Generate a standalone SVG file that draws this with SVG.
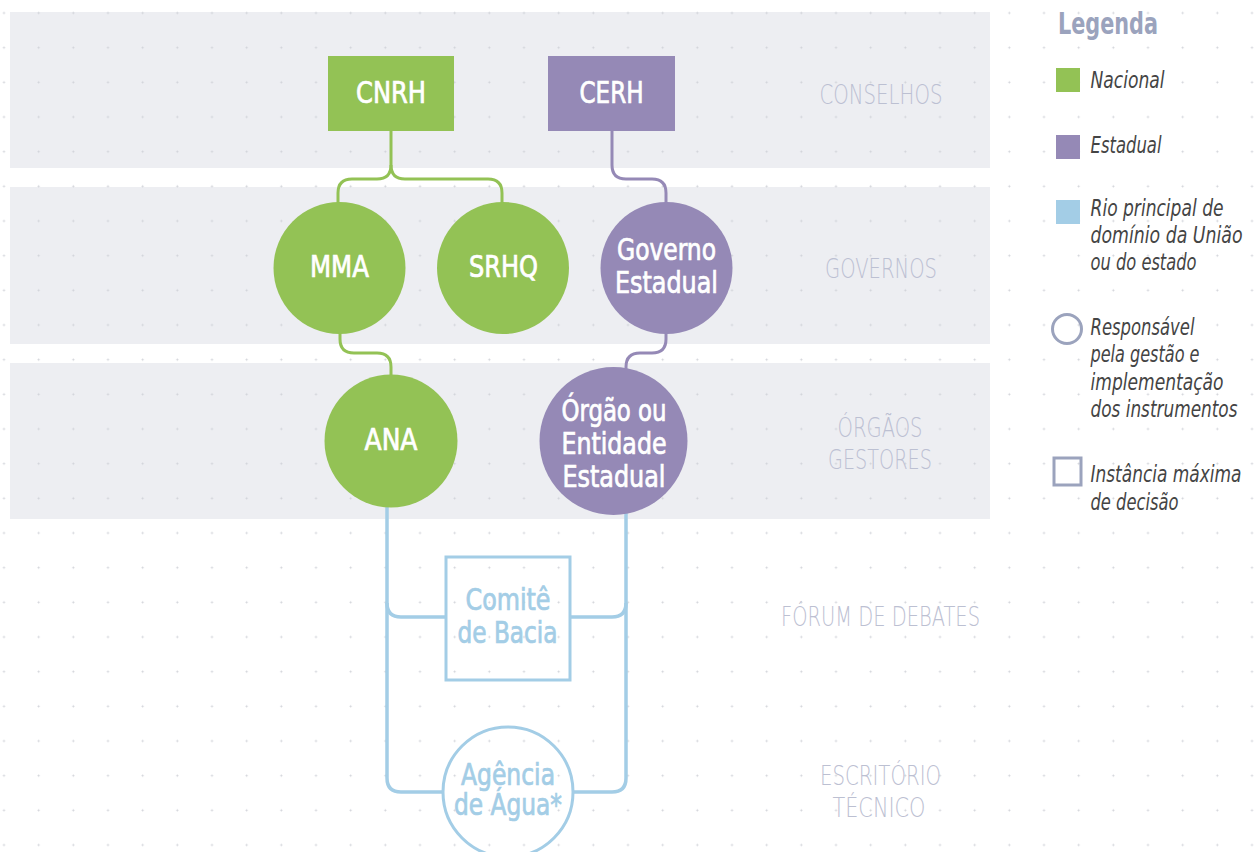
<svg xmlns="http://www.w3.org/2000/svg" width="1256" height="852" viewBox="0 0 1256 852">
<defs>
<pattern id="dots" patternUnits="userSpaceOnUse" x="-13.333" y="-4.333" width="34.667" height="34.667">
<rect x="16.333" y="16.833" width="2" height="1" fill="#cfd1d7"/>
<rect x="16.833" y="16.333" width="1" height="2" fill="#cfd1d7"/>
</pattern>
<style>
.band{fill:#edeef2}
.nat{fill:#93c255}
.est{fill:#9589b6}
text{font-family:"DejaVu Sans Condensed","DejaVu Sans","Liberation Sans",sans-serif}
.lbl{font-size:29.5px;fill:#fff;stroke:#fff;stroke-width:0.7;text-anchor:middle}
.blbl{font-size:29.5px;fill:#a3cde6;stroke:#a3cde6;stroke-width:0.7;text-anchor:middle}
.side{font-family:"DejaVu Sans","Liberation Sans",sans-serif;font-weight:200;font-size:26px;fill:#bcc0d2;text-anchor:middle}
.leg{font-family:"DejaVu Sans","Liberation Sans",sans-serif;font-weight:200;font-size:23px;font-style:italic;fill:#444}
.cg{fill:none;stroke:#93c255;stroke-width:3}
.cp{fill:none;stroke:#9589b6;stroke-width:3}
.cb{fill:none;stroke:#a3cde6;stroke-width:3.5}
</style>
</defs>
<rect width="1256" height="852" fill="#fff"/>
<g id="bands">
<rect class="band" x="10" y="12" width="980" height="156"/>
<rect class="band" x="10" y="187" width="980" height="157"/>
<rect class="band" x="10" y="363" width="980" height="156"/>
</g>
<rect width="1256" height="852" fill="url(#dots)"/>
<g id="side-labels">
<text class="side" x="881" y="104" textLength="123" lengthAdjust="spacingAndGlyphs">CONSELHOS</text>
<text class="side" x="881" y="278" textLength="112" lengthAdjust="spacingAndGlyphs">GOVERNOS</text>
<text class="side" x="880" y="437" textLength="85" lengthAdjust="spacingAndGlyphs">ÓRGÃOS</text>
<text class="side" x="880" y="469" textLength="104" lengthAdjust="spacingAndGlyphs">GESTORES</text>
<text class="side" x="880.5" y="626" textLength="199" lengthAdjust="spacingAndGlyphs">FÓRUM DE DEBATES</text>
<text class="side" x="880.5" y="785" textLength="121" lengthAdjust="spacingAndGlyphs">ESCRITÓRIO</text>
<text class="side" x="879" y="817" textLength="93" lengthAdjust="spacingAndGlyphs">TÉCNICO</text>
</g>
<g id="connectors">
<path class="cg" d="M391,131 V165 Q391,179 377,179 H352 Q338,179 338,193 V203"/>
<path class="cg" d="M391,165 Q391,179 405,179 H488 Q502,179 502,193 V203"/>
<path class="cp" d="M612,131 V165 Q612,179 626,179 H652 Q666,179 666,193 V203"/>
<path class="cg" d="M340,333 V339 Q340,353 354,353 H377 Q391,353 391,367 V375"/>
<path class="cp" d="M666,333 V339 Q666,353 652,353 H640 Q626,353 626,367 V369"/>
<path class="cb" d="M387,506 V778 Q387,792 401,792 H443"/>
<path class="cb" d="M387,603 Q387,617 401,617 H446"/>
<path class="cb" d="M626,513 V778 Q626,792 612,792 H573"/>
<path class="cb" d="M626,603 Q626,617 612,617 H570"/>
</g>
<g id="node-cnrh">
<rect class="nat" x="328" y="56" width="126" height="75"/>
<text class="lbl" x="391" y="103" textLength="70" lengthAdjust="spacingAndGlyphs">CNRH</text>
</g>
<g id="node-cerh">
<rect class="est" x="548" y="56" width="127" height="75"/>
<text class="lbl" x="611.5" y="103" textLength="64" lengthAdjust="spacingAndGlyphs">CERH</text>
</g>
<g id="node-mma">
<circle class="nat" cx="339.5" cy="268" r="66"/>
<text class="lbl" x="339.5" y="277" textLength="59" lengthAdjust="spacingAndGlyphs">MMA</text>
</g>
<g id="node-srhq">
<circle class="nat" cx="503" cy="268" r="66"/>
<text class="lbl" x="503.5" y="277" textLength="69" lengthAdjust="spacingAndGlyphs">SRHQ</text>
</g>
<g id="node-governo">
<circle class="est" cx="666.5" cy="268" r="66"/>
<text class="lbl" x="666.5" y="260" textLength="99" lengthAdjust="spacingAndGlyphs">Governo</text>
<text class="lbl" x="666.5" y="293" textLength="103" lengthAdjust="spacingAndGlyphs">Estadual</text>
</g>
<g id="node-ana">
<circle class="nat" cx="391" cy="441" r="66.5"/>
<text class="lbl" x="391" y="450" textLength="53" lengthAdjust="spacingAndGlyphs">ANA</text>
</g>
<g id="node-orgao">
<circle class="est" cx="613.5" cy="441" r="74"/>
<text class="lbl" x="614" y="421" textLength="105" lengthAdjust="spacingAndGlyphs">Órgão ou</text>
<text class="lbl" x="614" y="454" textLength="105" lengthAdjust="spacingAndGlyphs">Entidade</text>
<text class="lbl" x="614" y="487" textLength="103" lengthAdjust="spacingAndGlyphs">Estadual</text>
</g>
<g id="node-comite">
<rect x="446" y="557" width="124" height="123" fill="none" stroke="#a3cde6" stroke-width="3"/>
<text class="blbl" x="508" y="610" textLength="85" lengthAdjust="spacingAndGlyphs">Comitê</text>
<text class="blbl" x="507.5" y="643" textLength="100" lengthAdjust="spacingAndGlyphs">de Bacia</text>
</g>
<g id="node-agencia">
<circle cx="508" cy="792" r="65" fill="none" stroke="#a3cde6" stroke-width="3"/>
<text class="blbl" x="508" y="785" textLength="94" lengthAdjust="spacingAndGlyphs">Agência</text>
<text class="blbl" x="508" y="815" textLength="108" lengthAdjust="spacingAndGlyphs">de Água*</text>
</g>
<g id="legend">
<text x="1058" y="34" font-size="31" font-weight="bold" fill="#9ba3bd" textLength="100" lengthAdjust="spacingAndGlyphs">Legenda</text>
<rect x="1056" y="68" width="24" height="24" fill="#93c255"/>
<text class="leg" x="1090.5" y="88" textLength="74" lengthAdjust="spacingAndGlyphs">Nacional</text>
<rect x="1056" y="135" width="24" height="24" fill="#9589b6"/>
<text class="leg" x="1090.5" y="153" textLength="71" lengthAdjust="spacingAndGlyphs">Estadual</text>
<rect x="1056" y="200" width="24" height="24" fill="#a3cde6"/>
<text class="leg" x="1090.5" y="216" textLength="133" lengthAdjust="spacingAndGlyphs">Rio principal de</text>
<text class="leg" x="1090.5" y="243" textLength="152" lengthAdjust="spacingAndGlyphs">domínio da União</text>
<text class="leg" x="1090.5" y="270" textLength="106" lengthAdjust="spacingAndGlyphs">ou do estado</text>
<circle cx="1067" cy="329" r="14.5" fill="none" stroke="#9ba3bd" stroke-width="3"/>
<text class="leg" x="1090.5" y="335" textLength="104" lengthAdjust="spacingAndGlyphs">Responsável</text>
<text class="leg" x="1090.5" y="362" textLength="109" lengthAdjust="spacingAndGlyphs">pela gestão e</text>
<text class="leg" x="1090.5" y="390" textLength="133" lengthAdjust="spacingAndGlyphs">implementação</text>
<text class="leg" x="1090.5" y="417" textLength="147" lengthAdjust="spacingAndGlyphs">dos instrumentos</text>
<rect x="1054" y="458" width="27" height="27" fill="none" stroke="#9ba3bd" stroke-width="3"/>
<text class="leg" x="1090.5" y="482" textLength="151" lengthAdjust="spacingAndGlyphs">Instância máxima</text>
<text class="leg" x="1090.5" y="510" textLength="88" lengthAdjust="spacingAndGlyphs">de decisão</text>
</g>
</svg>
